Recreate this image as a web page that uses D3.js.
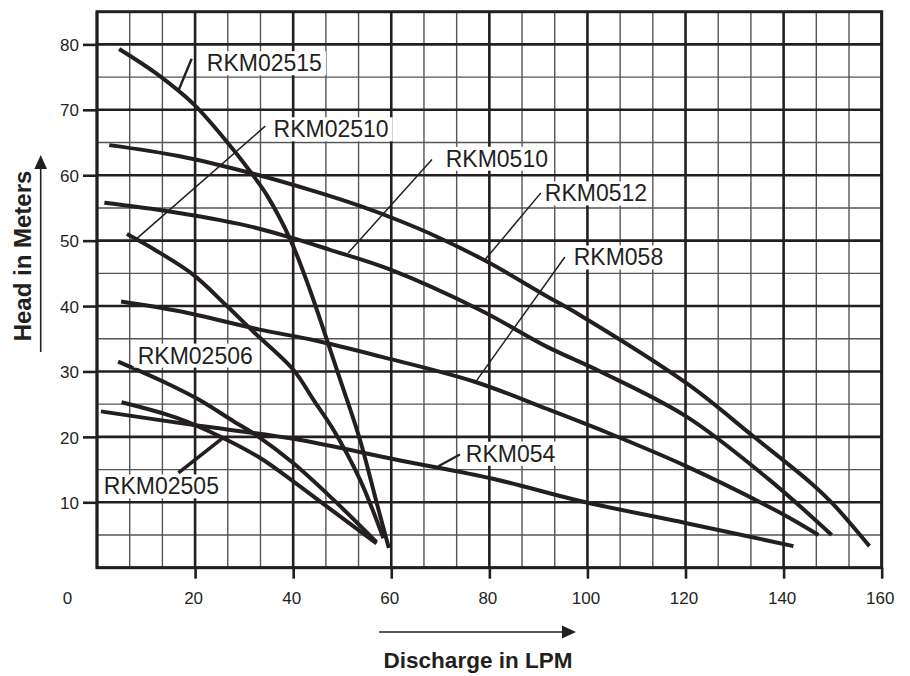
<!DOCTYPE html>
<html>
<head>
<meta charset="utf-8">
<script src="https://cdn.jsdelivr.net/npm/d3@7"></script>
<style>
  html, body { margin: 0; padding: 0; background: #ffffff; }
  svg { display: block; }
  text { font-family: "Liberation Sans", Arial, Helvetica, sans-serif; fill: #231f20; }
</style>
</head>
<body>
<svg id="chart" width="910" height="676"></svg>
<script>
// ---------------- DATA ----------------
// x = discharge (LPM), y = head (m)
const xTickValues = [0, 20, 40, 60, 80, 100, 120, 140, 160];
const yTickValues = [10, 20, 30, 40, 50, 60, 70, 80];

const pumpNames = ["RKM02515", "RKM02510", "RKM0510", "RKM0512", "RKM058", "RKM054", "RKM02506", "RKM02505"];

const rkm02515 = [[4.5,79.3],[12.0,75.6],[19.8,70.8],[27.8,63.9],[31.5,60.3],[34.6,57.0],[39.4,50.2],[43.4,42.5],[46.8,35.0],[49.6,28.7],[53.6,19.6],[57.0,10.0],[59.5,3.0]];
const rkm02510 = [[6.1,51.0],[12.0,48.5],[19.6,44.8],[26.5,40.0],[32.0,36.0],[40.0,30.3],[44.1,25.7],[48.2,21.1],[53.6,13.5],[58.4,4.5]];
const rkm0510  = [[1.5,55.8],[13.5,54.6],[30.5,52.3],[39.4,50.5],[47.5,48.6],[59.7,45.6],[78.1,39.4],[91.7,33.8],[102.6,30.0],[120.2,23.1],[137.0,13.5],[149.8,5.0]];
const rkm0512  = [[2.5,64.6],[16.9,62.9],[31.5,60.3],[44.1,57.6],[53.6,55.3],[61.8,53.0],[69.3,50.6],[79.5,46.8],[91.7,41.5],[98.5,38.6],[120.2,28.2],[133.8,20.1],[145.5,13.0],[150.0,9.8],[157.5,3.3]];
const rkm058   = [[4.9,40.7],[16.9,39.2],[33.2,36.4],[44.1,34.8],[57.7,32.3],[76.7,28.5],[91.7,24.3],[102.6,21.1],[120.2,15.5],[139.3,8.4],[147.1,5.0]];
const rkm054   = [[0.8,23.9],[19.8,21.8],[40.0,19.7],[61.8,16.4],[80.7,13.6],[98.5,10.2],[120.2,6.8],[142.0,3.3]];
const rkm02506 = [[4.3,31.5],[14.2,28.2],[21.0,25.6],[27.8,22.4],[32.6,20.2],[40.0,16.0],[48.2,10.4],[57.0,3.9]];
const rkm02505 = [[5.0,25.3],[16.3,22.9],[25.8,19.8],[33.2,16.8],[40.0,13.2],[48.2,8.6],[57.0,3.7]];

const pumpSeries = [rkm02515, rkm02510, rkm0510, rkm0512, rkm058, rkm054, rkm02506, rkm02505];

// ---------------- LAYOUT ----------------
const INK = "#231f20";
const plot = { left: 97, right: 881.7, top: 11.7, bottom: 567.7 };

// label placement (in data units): text start, and leader line from -> to
const labelLayout = {
  "RKM02515": { text: [22.4, 75.9], leader: [[19.3, 77.8], [16.7, 73.1]], lw: 2.4 },
  "RKM02510": { text: [36.0, 65.8], leader: [[34.3, 67.5], [8.1, 50.3]], lw: 1.5 },
  "RKM0510":  { text: [71.1, 61.3], leader: [[68.3, 62.4], [51.2, 48.1]], lw: 1.5 },
  "RKM0512":  { text: [91.3, 56.0], leader: [[90.5, 57.3], [78.8, 46.8]], lw: 1.5 },
  "RKM058":   { text: [97.2, 46.2], leader: [[95.4, 47.5], [77.1, 28.3]], lw: 1.5 },
  "RKM054":   { text: [75.2, 16.2], leader: [[74.0, 17.3], [69.6, 15.5]], lw: 2.2 },
  "RKM02506": { text: [8.3, 31.2], leader: null, lw: 0 },
  "RKM02505": { text: [1.4, 11.2], leader: [[16.6, 14.5], [25.6, 19.8]], lw: 3.6 }
};

const svg = d3.select("#chart");

const x = d3.scaleLinear().domain([0, 160]).range([plot.left, plot.right]);
const y = d3.scaleLinear().domain([0, 85]).range([plot.bottom, plot.top]);

// ---------------- GRID ----------------
const grid = svg.append("g");
const vLines = d3.range(0, 25).map(k => ({ v: k * 20 / 3, major: k % 3 === 0 }));
const hLines = d3.range(0, 18).map(k => ({ v: k * 5, major: k % 2 === 0 }));

grid.selectAll("line.v").data(vLines.filter(d => !d.major)).enter().append("line")
  .attr("x1", d => x(d.v)).attr("x2", d => x(d.v))
  .attr("y1", plot.top).attr("y2", plot.bottom)
  .attr("stroke", "#555").attr("stroke-width", 1.4);
grid.selectAll("line.h").data(hLines.filter(d => !d.major)).enter().append("line")
  .attr("y1", d => y(d.v)).attr("y2", d => y(d.v))
  .attr("x1", plot.left).attr("x2", plot.right)
  .attr("stroke", "#555").attr("stroke-width", 1.4);
grid.selectAll("line.vm").data(vLines.filter(d => d.major)).enter().append("line")
  .attr("x1", d => x(d.v)).attr("x2", d => x(d.v))
  .attr("y1", plot.top).attr("y2", plot.bottom)
  .attr("stroke", INK).attr("stroke-width", 2.6);
grid.selectAll("line.hm").data(hLines.filter(d => d.major)).enter().append("line")
  .attr("y1", d => y(d.v)).attr("y2", d => y(d.v))
  .attr("x1", plot.left).attr("x2", plot.right)
  .attr("stroke", INK).attr("stroke-width", 2.6);

// border
grid.append("rect")
  .attr("x", plot.left).attr("y", plot.top)
  .attr("width", plot.right - plot.left).attr("height", plot.bottom - plot.top)
  .attr("fill", "none").attr("stroke", INK).attr("stroke-width", 3);

// ---------------- AXES ----------------
const xAxis = d3.axisBottom(x).tickValues(xTickValues).tickSize(11).tickPadding(0).tickFormat(d3.format("d"));
const gx = svg.append("g").attr("transform", `translate(0,${plot.bottom})`).call(xAxis);
gx.select(".domain").remove();
gx.selectAll(".tick line").attr("stroke", INK).attr("stroke-width", 2.6)
  .attr("display", d => d === 0 ? "none" : null);
gx.selectAll(".tick text")
  .attr("font-size", 17).attr("fill", INK)
  .attr("font-family", "'Liberation Sans', Arial, sans-serif")
  .attr("dy", null).attr("y", 36.5)
  .attr("x", d => d === 0 ? -30 : -2);

const yAxis = d3.axisLeft(y).tickValues(yTickValues).tickSize(14).tickPadding(0).tickFormat(d3.format("d"));
const gy = svg.append("g").attr("transform", `translate(${plot.left},0)`).call(yAxis);
gy.select(".domain").remove();
gy.selectAll(".tick line").attr("stroke", INK).attr("stroke-width", 2.6);
gy.selectAll(".tick text")
  .attr("font-size", 17).attr("fill", INK)
  .attr("font-family", "'Liberation Sans', Arial, sans-serif")
  .attr("x", -18).attr("dy", "0.36em");

// ---------------- CURVES ----------------
const lineGen = d3.line().x(d => x(d[0])).y(d => y(d[1])).curve(d3.curveCatmullRom.alpha(0.5));
svg.append("g").selectAll("path").data(pumpSeries).enter().append("path")
  .attr("d", lineGen)
  .attr("fill", "none").attr("stroke", INK).attr("stroke-width", 4)
  .attr("stroke-linecap", "butt").attr("stroke-linejoin", "round");

// ---------------- LABELS ----------------
const labG = svg.append("g");
pumpNames.forEach(name => {
  const L = labelLayout[name];
  const g = labG.append("g");
  const rect = g.append("rect").attr("fill", "#fff");
  const t = g.append("text")
    .attr("x", x(L.text[0])).attr("y", y(L.text[1]))
    .attr("font-size", 23).text(name);
  const bb = t.node().getBBox();
  rect.attr("x", bb.x - 4).attr("y", bb.y + 1).attr("width", bb.width + 8).attr("height", bb.height - 2);
  if (L.leader) {
    labG.append("line")
      .attr("x1", x(L.leader[0][0])).attr("y1", y(L.leader[0][1]))
      .attr("x2", x(L.leader[1][0])).attr("y2", y(L.leader[1][1]))
      .attr("stroke", INK).attr("stroke-width", L.lw);
  }
});

// ---------------- AXIS TITLES & ARROWS ----------------
svg.append("text")
  .attr("transform", "translate(31,256) rotate(-90)")
  .attr("text-anchor", "middle").attr("font-weight", "bold").attr("font-size", 24)
  .text("Head in Meters");
svg.append("line").attr("x1", 40.7).attr("x2", 40.7).attr("y1", 352).attr("y2", 166)
  .attr("stroke", INK).attr("stroke-width", 1.6);
svg.append("path").attr("d", "M40.7,155 L47,169 L34.4,169 Z").attr("fill", INK);

svg.append("text")
  .attr("x", 478).attr("y", 668)
  .attr("text-anchor", "middle").attr("font-weight", "bold").attr("font-size", 22.5)
  .text("Discharge in LPM");
svg.append("line").attr("x1", 379).attr("x2", 565).attr("y1", 632).attr("y2", 632)
  .attr("stroke", INK).attr("stroke-width", 1.6);
svg.append("path").attr("d", "M576,632 L562,625.5 L562,638.5 Z").attr("fill", INK);
</script>
</body>
</html>
